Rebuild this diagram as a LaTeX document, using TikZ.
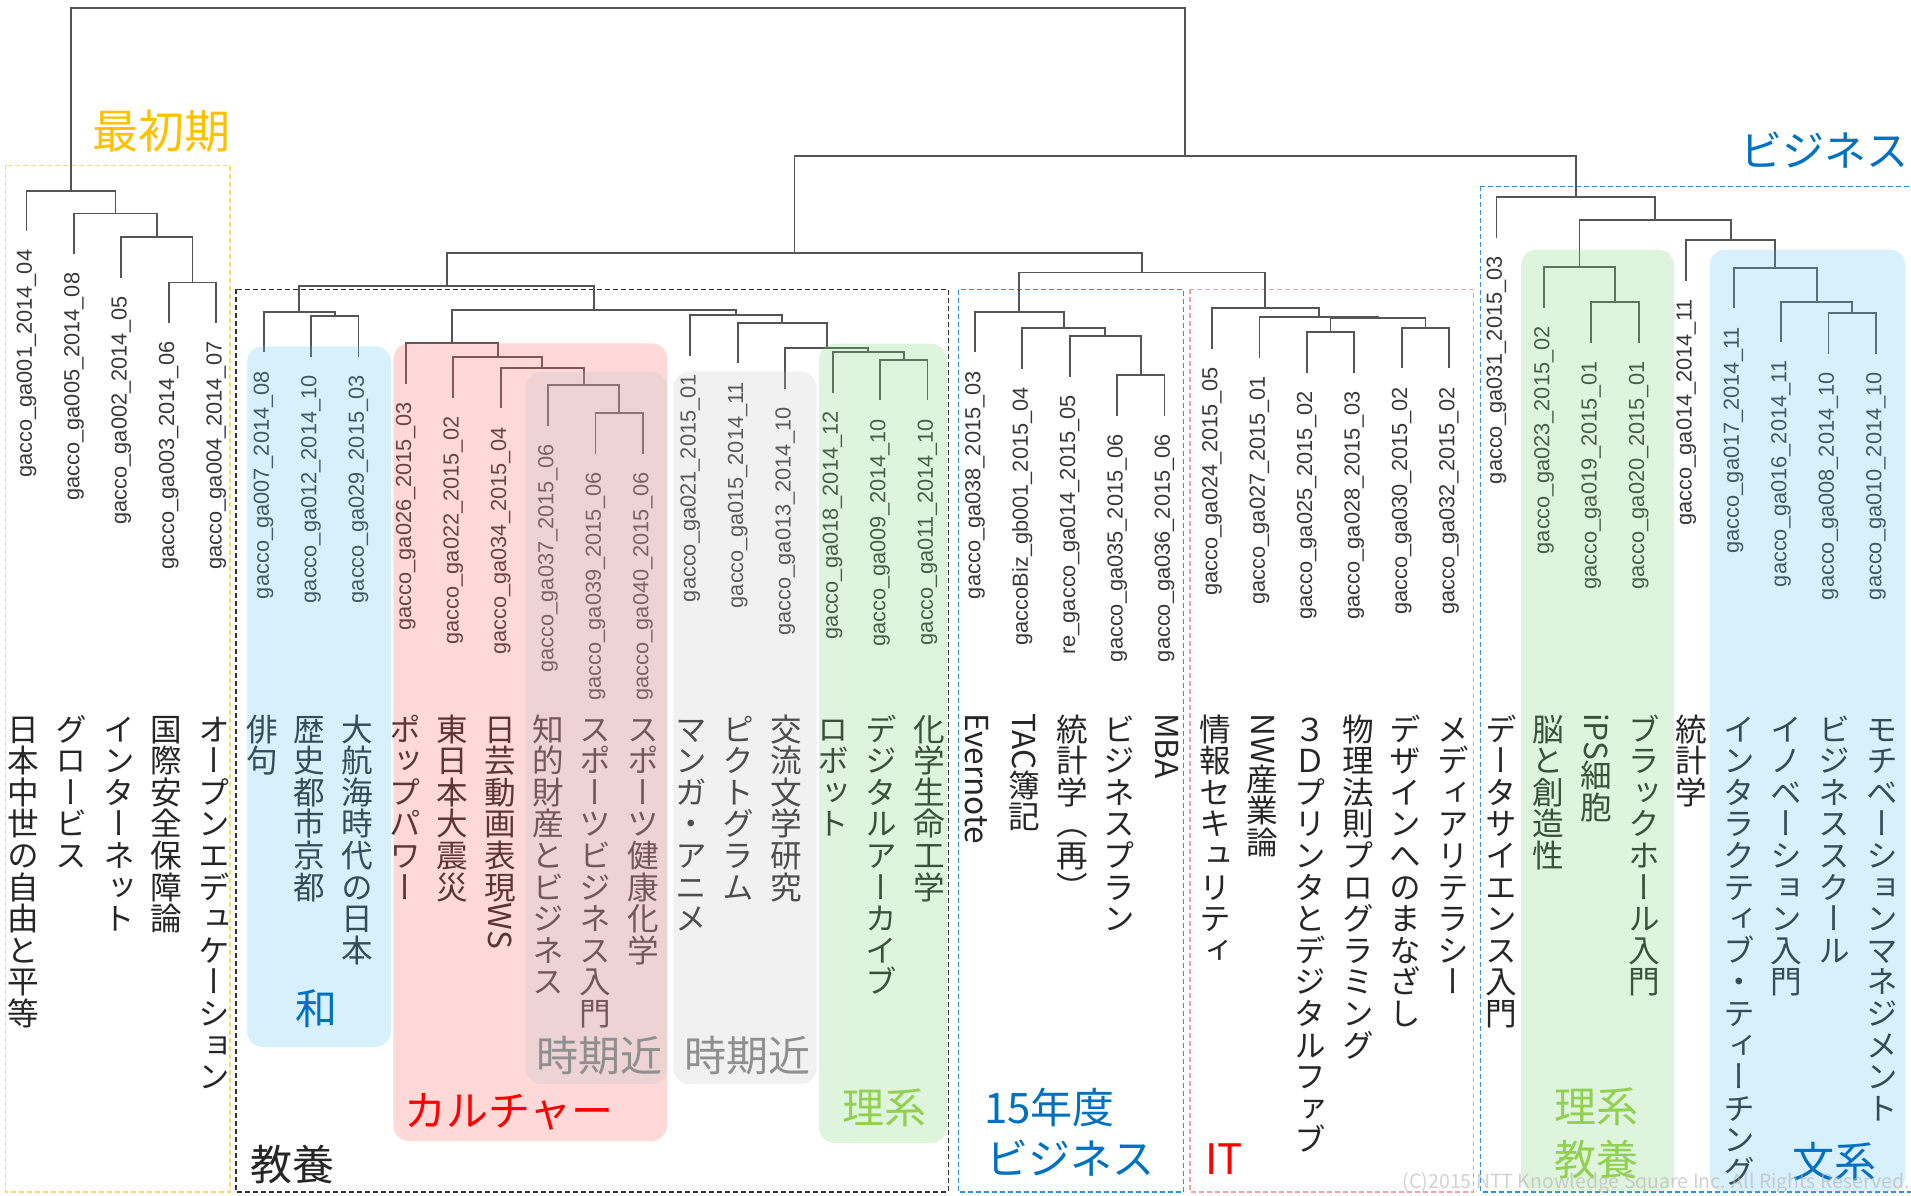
\documentclass[tikz,border=0pt]{standalone}
\usepackage{fontspec}
\usepackage{graphicx}
\usetikzlibrary{calc}
\newfontfamily\cjk{Noto Sans CJK JP}
\newfontfamily\cjkv{Noto Sans CJK JP}[RawFeature=+vert]
\newfontfamily\labf{Liberation Sans}
\definecolor{lineg}{HTML}{555555}
\definecolor{gtxt}{HTML}{383838}
\definecolor{jtxt}{HTML}{262626}
\definecolor{yel}{HTML}{FFC000}
\definecolor{yeld}{HTML}{FFD966}
\definecolor{bl}{HTML}{0070C0}
\definecolor{bld}{HTML}{2F8FE0}
\definecolor{rd}{HTML}{FF0000}
\definecolor{rdd}{HTML}{F4A0A0}
\definecolor{gn}{HTML}{92D050}
\definecolor{gy}{HTML}{8F8F8F}
\definecolor{pblue}{RGB}{95,195,239}
\definecolor{pgreen}{RGB}{127,211,115}
\definecolor{pred}{RGB}{255,99,99}
\definecolor{pgray}{RGB}{199,199,199}
\definecolor{pinner}{RGB}{187,196,204}
\makeatletter
\def\vt@app#1{\expandafter\g@addto@macro\expandafter\vt@acc\expandafter{\vt@sep#1}\gdef\vt@sep{\\}}
\newcommand\vtxt[1]{\gdef\vt@acc{\rule{0pt}{0.88em}}\gdef\vt@sep{}%
  \@tfor\vt@c:=#1\do{\expandafter\vt@app\expandafter{\vt@c}}%
  \vt@acc}
\makeatother
\newcommand\rotw[1]{\raisebox{0.88em}{\rotatebox{-90}{#1}}}
\tikzset{
  dl/.style={draw=lineg, line width=1.8pt},
  gl/.style={font=\labf\fontsize{21.8}{21.8}\selectfont, inner sep=0pt, text=gtxt},
  jl/.style={font=\cjkv\fontsize{31.6}{31.6}\selectfont, align=center, inner sep=0pt, text=jtxt},
  panel/.style={rounded corners=16pt, fill opacity=0.25},
  dbox/.style={line width=1.4pt, dash pattern=on 5pt off 3pt},
  glab/.style={font=\cjk\fontsize{42}{50}\selectfont, inner sep=0pt},
}
\newcommand\mkleaf[4]{%
  \pgfmathsetmacro\lfx{26.5+(#1-1)*47.42}%
  \pgfmathsetmacro\jfx{23.7+(#1-1)*47.65}%
  \pgfmathsetmacro\gfy{#2+18.5}%
  \coordinate (L#1) at (\lfx,#2);%
  \node[gl,rotate=90,anchor=east] (g#1) at (\lfx,\gfy) {#3};%
  \node[jl,anchor=north] (j#1) at (\jfx,713) {\vtxt{#4}};%
}
\newcommand\mkmerge[4]{%
  \coordinate (#1t) at ($(#2)!0.5!(#3)$);%
  \coordinate (#1) at (#1t |- 0,#4);%
  \draw[dl] (#2) |- (#1) -| (#3);%
}
\begin{document}
\begin{tikzpicture}[x=1pt,y=-1pt]
\useasboundingbox (0,0) rectangle (1911,1196);
% dashed group boxes
\draw[dbox, draw=yeld] (5.3,165.3) rectangle (229.8,1192);
\draw[dbox, draw=black!80] (236,289.3) rectangle (948.2,1192);
\draw[dbox, draw=bld] (958.4,289.7) rectangle (1183.7,1192);
\draw[dbox, draw=rdd] (1189.8,289.3) rectangle (1473.3,1192);
\draw[dbox, draw=bld] (1480.2,186.4) rectangle (1925,1192);
% leaves
\mkleaf{1}{231.1}{gacco\_ga001\_2014\_04}{日本中世の自由と平等}
\mkleaf{2}{254}{gacco\_ga005\_2014\_08}{グロービス}
\mkleaf{3}{277.8}{gacco\_ga002\_2014\_05}{インターネット}
\mkleaf{4}{322.9}{gacco\_ga003\_2014\_06}{国際安全保障論}
\mkleaf{5}{322.9}{gacco\_ga004\_2014\_07}{オープンエデュケーション}
\mkleaf{6}{352.4}{gacco\_ga007\_2014\_08}{俳句}
\mkleaf{7}{356.6}{gacco\_ga012\_2014\_10}{歴史都市京都}
\mkleaf{8}{356.6}{gacco\_ga029\_2015\_03}{大航海時代の日本}
\mkleaf{9}{383.8}{gacco\_ga026\_2015\_03}{ポップパワー}
\mkleaf{10}{397.8}{gacco\_ga022\_2015\_02}{東日本大震災}
\mkleaf{11}{408.2}{gacco\_ga034\_2015\_04}{日芸動画表現{\rotw{WS}}}
\mkleaf{12}{425.8}{gacco\_ga037\_2015\_06}{知的財産とビジネス}
\mkleaf{13}{453.8}{gacco\_ga039\_2015\_06}{スポーツビジネス入門}
\mkleaf{14}{453.8}{gacco\_ga040\_2015\_06}{スポーツ健康化学}
\mkleaf{15}{355.5}{gacco\_ga021\_2015\_01}{マンガ・アニメ}
\mkleaf{16}{363.2}{gacco\_ga015\_2014\_11}{ピクトグラム}
\mkleaf{17}{388.8}{gacco\_ga013\_2014\_10}{交流文学研究}
\mkleaf{18}{392.6}{gacco\_ga018\_2014\_12}{ロボット}
\mkleaf{19}{400.2}{gacco\_ga009\_2014\_10}{デジタルアーカイブ}
\mkleaf{20}{400.2}{gacco\_ga011\_2014\_10}{化学生命工学}
\mkleaf{21}{352.4}{gacco\_ga038\_2015\_03}{{\rotw{Evernote}}}
\mkleaf{22}{368.5}{gaccoBiz\_gb001\_2015\_04}{{\rotw{TAC}}簿記}
\mkleaf{23}{376.5}{re\_gacco\_ga014\_2015\_05}{統計学︵再︶}
\mkleaf{24}{415.5}{gacco\_ga035\_2015\_06}{ビジネスプラン}
\mkleaf{25}{415.5}{gacco\_ga036\_2015\_06}{{\rotw{MBA}}}
\mkleaf{26}{348.8}{gacco\_ga024\_2015\_05}{情報セキュリティ}
\mkleaf{27}{357.8}{gacco\_ga027\_2015\_01}{{\rotw{NW}}産業論}
\mkleaf{28}{372.8}{gacco\_ga025\_2015\_02}{３Ｄプリンタとデジタルファブ}
\mkleaf{29}{372.8}{gacco\_ga028\_2015\_03}{物理法則プログラミング}
\mkleaf{30}{368.2}{gacco\_ga030\_2015\_02}{デザインへのまなざし}
\mkleaf{31}{368.2}{gacco\_ga032\_2015\_02}{メディアリテラシー}
\mkleaf{32}{237.5}{gacco\_ga031\_2015\_03}{データサイエンス入門}
\mkleaf{33}{307.6}{gacco\_ga023\_2015\_02}{脳と創造性}
\mkleaf{34}{342.8}{gacco\_ga019\_2015\_01}{{\rotw{iPS}}細胞}
\mkleaf{35}{342.8}{gacco\_ga020\_2015\_01}{ブラックホール入門}
\mkleaf{36}{280.5}{gacco\_ga014\_2014\_11}{統計学}
\mkleaf{37}{308.4}{gacco\_ga017\_2014\_11}{インタラクティブ・ティーチング}
\mkleaf{38}{342.1}{gacco\_ga016\_2014\_11}{イノベーション入門}
\mkleaf{39}{353.5}{gacco\_ga008\_2014\_10}{ビジネススクール}
\mkleaf{40}{353.5}{gacco\_ga010\_2014\_10}{モチベーションマネジメント}
% merges
\mkmerge{a45}{L4}{L5}{282.4}
\mkmerge{a345}{L3}{a45}{237.3}
\mkmerge{a25}{L2}{a345}{213.5}
\mkmerge{a15}{L1}{a25}{190.6}
\mkmerge{w78}{L7}{L8}{316.1}
\mkmerge{w68}{L6}{w78}{311.9}
\mkmerge{c1314}{L13}{L14}{413.3}
\mkmerge{c1214}{L12}{c1314}{385.3}
\mkmerge{c1114}{L11}{c1214}{367.7}
\mkmerge{c1014}{L10}{c1114}{357.3}
\mkmerge{c914}{L9}{c1014}{343.3}
\mkmerge{s1920}{L19}{L20}{359.7}
\mkmerge{s1820}{L18}{s1920}{352.1}
\mkmerge{s1720}{L17}{s1820}{348.3}
\mkmerge{s1620}{L16}{s1720}{322.7}
\mkmerge{s1520}{L15}{s1620}{315}
\mkmerge{m920}{c914}{s1520}{310.3}
\mkmerge{k620}{w68}{m920}{286.3}
\mkmerge{b2425}{L24}{L25}{375}
\mkmerge{b2325}{L23}{b2425}{336}
\mkmerge{b2225}{L22}{b2325}{328}
\mkmerge{b2125}{L21}{b2225}{311.9}
\mkmerge{i3031}{L30}{L31}{327.7}
\mkmerge{i2829}{L28}{L29}{332.3}
\mkmerge{i2831}{i2829}{i3031}{318.3}
\mkmerge{i2731}{L27}{i2831}{317.3}
\mkmerge{i2631}{L26}{i2731}{308.3}
\mkmerge{bi}{b2125}{i2631}{272.5}
\mkmerge{k631}{k620}{bi}{252.6}
\mkmerge{r3435}{L34}{L35}{302.3}
\mkmerge{r3335}{L33}{r3435}{267.1}
\mkmerge{f3940}{L39}{L40}{313}
\mkmerge{f3840}{L38}{f3940}{301.6}
\mkmerge{f3740}{L37}{f3840}{267.9}
\mkmerge{f3640}{L36}{f3740}{240}
\mkmerge{g3340}{r3335}{f3640}{220}
\mkmerge{g3240}{L32}{g3340}{197}
\mkmerge{x640}{k631}{g3240}{156}
\mkmerge{root}{a15}{x640}{8.4}
% translucent panels
\fill[panel, fill=pblue] (247,346.3) rectangle (391,1047);
\fill[panel, fill=pred] (393.3,343.3) rectangle (667.3,1141);
\fill[panel, fill=pinner] (525.7,371.7) rectangle (667.3,1084);
\fill[panel, fill=pgray] (673.3,371.7) rectangle (816.7,1084);
\fill[panel, fill=pgreen] (818.8,343.7) rectangle (947,1143);
\fill[panel, fill=pgreen] (1521,249.5) rectangle (1674,1192);
\fill[panel, fill=pblue] (1709.6,249.5) rectangle (1905.5,1192);
% group labels
\node[glab, text=yel, font=\cjk\fontsize{46}{50}\selectfont] (lab1) at (161.5,131) {最初期};
\node[glab, text=jtxt] (lab2) at (292.5,1164.5) {教養};
\node[glab, text=bl] (lab3) at (316,1009) {和};
\node[glab, text=rd] (lab4) at (509,1112) {カルチャー};
\node[glab, text=gy] (lab5) at (599,1056) {時期近};
\node[glab, text=gy] (lab6) at (747,1056) {時期近};
\node[glab, text=gn] (lab7) at (884,1108) {理系};
\node[glab, text=bl, anchor=west] (lab8) at (984,1107) {15年度};
\node[glab, text=bl, anchor=west] (lab9) at (986,1158.5) {ビジネス};
\node[glab, text=rd] (lab10) at (1224,1158.7) {IT};
\node[glab, text=bl] (lab11) at (1824,150) {ビジネス};
\node[glab, text=gn] (lab12) at (1596,1107) {理系};
\node[glab, text=gn] (lab13) at (1596,1160) {教養};
\node[glab, text=bl] (lab14) at (1834,1161.6) {文系};
\node[font=\cjk\fontsize{19.5}{20}\selectfont, text=black!30, text opacity=0.6, anchor=base east, inner sep=0pt] (cr) at (1910,1188.5) {(C)2015 NTT Knowledge Square Inc. All Rights Reserved.};
\end{tikzpicture}
\end{document}
